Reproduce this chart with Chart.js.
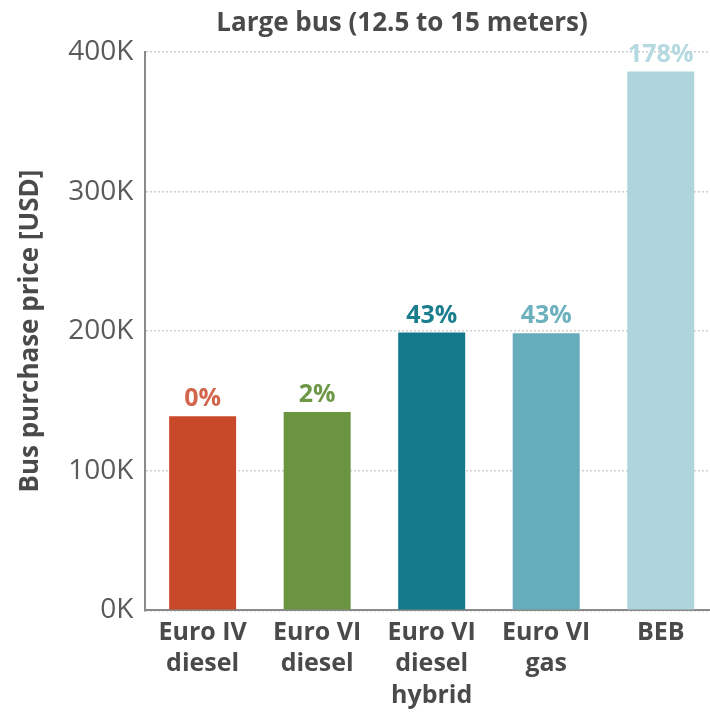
<!DOCTYPE html>
<html>
<head>
<meta charset="utf-8">
<script src="https://cdn.jsdelivr.net/npm/chart.js@4.4.0/dist/chart.umd.min.js"></script>
<style>
  html, body { margin: 0; padding: 0; background: #fff; overflow: hidden; }
  #wrap { width: 718px; height: 714px; }
</style>
</head>
<body>
<div id="wrap"><canvas id="myChart"></canvas></div>
<script>
// chart values
var chartTitle = 'Large bus (12.5 to 15 meters)';
var categories = [['Euro IV', 'diesel'], ['Euro VI', 'diesel'], ['Euro VI', 'diesel', 'hybrid'], ['Euro VI', 'gas'], ['BEB']];
var prices = [139000, 142000, 199000, 198500, 386000];
var pctLabels = ['0%', '2%', '43%', '43%', '178%'];
var yTicks = [0, 100000, 200000, 300000, 400000];

var barColors = ['#c8492a', '#6a9440', '#137a8c', '#66adbb', '#aed4dc'];
var labelColors = ['#d2654c', '#6e9848', '#1a7e8f', '#6db1bf', '#b5d9e1'];
var fontFam = '"Open Sans", "DejaVu Sans", sans-serif';

// title + % labels above each bar
var extraText = {
    id: 'extraText',
    afterDatasetsDraw: function (chart) {
        var ctx = chart.ctx;
        var meta = chart.getDatasetMeta(0);
        ctx.save();
        ctx.font = 'bold 25px ' + fontFam;
        ctx.textAlign = 'center';
        ctx.textBaseline = 'alphabetic';
        meta.data.forEach(function (bar, i) {
            ctx.fillStyle = labelColors[i];
            ctx.fillText(pctLabels[i], bar.x, bar.y - 10);
        });
        // title sits a bit left of the plot centre, like the original
        ctx.font = 'bold 26px ' + fontFam;
        ctx.fillStyle = '#4a4a4a';
        ctx.fillText(chartTitle, 402, 31);
        ctx.restore();
    }
};

var ctx = document.getElementById('myChart').getContext('2d');
window.myChart = new Chart(ctx, {
    type: 'bar',
    data: {
        labels: categories,
        datasets: [{
            data: prices,
            backgroundColor: barColors,
            borderWidth: 0,
            categoryPercentage: 1,
            barPercentage: 0.585
        }]
    },
    options: {
        responsive: true,
        maintainAspectRatio: false,
        animation: false,
        layout: { padding: { top: 52, right: 0, left: 15, bottom: -4 } },
        plugins: {
            legend: { display: false },
            tooltip: { enabled: false },
            title: { display: false }
        },
        scales: {
            x: {
                grid: { display: false, drawTicks: false },
                border: { color: '#8a8a8a', width: 2 },
                ticks: {
                    color: '#4a4a4a',
                    font: { family: fontFam, size: 25, weight: 'bold', lineHeight: 1.25 },
                    padding: 7,
                    maxRotation: 0,
                    autoSkip: false
                }
            },
            y: {
                min: 0,
                max: 400000,
                afterBuildTicks: function (axis) {
                    axis.ticks = yTicks.map(function (v) { return { value: v }; });
                },
                grid: {
                    color: '#cfcfcf',
                    lineWidth: 1.5,
                    drawTicks: false
                },
                border: { color: '#8a8a8a', width: 2, dash: [2, 2] },
                ticks: {
                    color: '#5a5a5a',
                    font: { family: fontFam, size: 28 },
                    padding: 12,
                    callback: function (v) { return (v / 1000) + 'K'; }
                },
                title: {
                    display: true,
                    text: 'Bus purchase price [USD]',
                    color: '#4a4a4a',
                    font: { family: fontFam, size: 26, weight: 'bold' },
                    padding: { top: 0, bottom: 10 }
                }
            }
        }
    },
    plugins: [extraText]
});
</script>
</body>
</html>
